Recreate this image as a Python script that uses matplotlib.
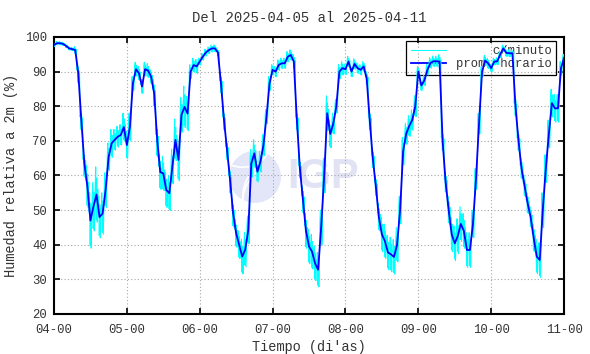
import numpy as np
import matplotlib
matplotlib.use('Agg')
import matplotlib.pyplot as plt
from matplotlib.patches import Ellipse, Arc

# hourly mean relative humidity (%), one list per day
day04 = [97.7, 98.2, 98.2, 98.0, 97.4, 96.7, 96.5, 96.2, 89.5, 76.0, 63.5, 56.8,
         47.0, 51.0, 54.5, 48.0, 49.0, 55.8, 65.4, 69.3, 70.3, 71.2, 71.7, 74.0]
day05 = [68.8, 74.0, 86.6, 90.7, 89.5, 85.7, 90.7, 90.3, 88.5, 83.7, 70.3, 61.0,
         60.6, 55.8, 54.9, 62.6, 70.3, 64.5, 77.5, 79.8, 77.9, 90.0, 91.9, 91.5]
day06 = [92.9, 94.3, 95.5, 96.2, 96.7, 96.7, 95.5, 86.6, 76.0, 67.4, 58.7, 49.1,
         43.3, 40.0, 36.6, 38.6, 44.3, 63.5, 66.4, 61.1, 64.0, 68.8, 77.0, 86.6]
day07 = [90.5, 90.0, 91.9, 92.4, 92.4, 94.3, 94.8, 92.9, 76.0, 62.0, 53.0, 44.0,
         39.5, 38.0, 34.6, 32.8, 45.0, 60.0, 78.0, 72.0, 75.0, 80.0, 90.0, 91.0]
day08 = [90.7, 92.9, 90.0, 92.2, 91.0, 90.5, 91.5, 88.0, 76.0, 65.0, 57.0, 48.0,
         43.0, 41.0, 37.8, 37.2, 36.5, 40.0, 50.0, 67.0, 72.0, 74.3, 76.0, 80.0]
day09 = [90.0, 86.0, 87.5, 90.5, 92.5, 93.0, 93.0, 92.9, 70.0, 58.0, 50.0, 43.0,
         40.4, 42.5, 46.0, 44.0, 38.5, 38.5, 46.0, 59.0, 75.0, 90.0, 93.2, 92.4]
day10 = [91.0, 92.9, 93.0, 95.0, 96.7, 95.4, 95.3, 95.3, 80.0, 70.0, 62.0, 57.0,
         52.0, 48.0, 42.0, 36.6, 35.6, 50.0, 62.0, 72.0, 80.9, 79.4, 79.4, 91.0]
day11 = [94.0]

# half-range of the per-minute scatter around each hourly mean (read by eye)
spread04 = [0.5, 0.5, 0.5, 0.5, 0.5, 0.5, 0.5, 1, 3, 3, 4, 6, 8, 7, 8, 6, 6, 5, 4, 4, 3, 3, 3, 4]
spread05 = [4, 4, 2, 2, 2, 2, 2, 2, 2, 4, 5, 5, 5, 5, 5, 5, 6, 6, 5, 6, 5, 2, 2, 2]
spread06 = [1, 1, 1, 1, 1, 1, 1, 3, 3, 3, 4, 4, 4, 4, 5, 5, 4, 4, 4, 3, 3, 3, 2, 2]
spread07 = [1.5, 1.5, 1.5, 1.5, 1.5, 1.5, 1.5, 2, 3, 3, 4, 5, 5, 5, 5, 5, 5, 5, 5, 4, 3, 2, 2, 2]
spread08 = [1.5, 1.5, 1.5, 1.5, 1.5, 1.5, 1.5, 2, 3, 3, 3, 4, 5, 5, 5, 5, 5, 5, 4, 4, 3, 3, 3, 3]
spread09 = [1.5, 1.5, 1.5, 1.5, 1.5, 1.5, 1.5, 2, 3, 3, 4, 5, 5, 5, 5, 5, 5, 5, 4, 3, 3, 1.5, 1.5, 1.5]
spread10 = [1, 1, 1, 1, 1, 1, 1, 1, 3, 3, 3, 3, 3, 3, 4, 5, 5, 5, 4, 4, 4, 4, 4, 2]
spread11 = [1]

xtick_labels = ['04-00', '05-00', '06-00', '07-00', '08-00', '09-00', '10-00', '11-00']

hourly = np.array(day04 + day05 + day06 + day07 + day08 + day09 + day10 + day11)
spread = np.array(spread04 + spread05 + spread06 + spread07 + spread08 + spread09 + spread10 + spread11, dtype=float)
t = 4 + np.arange(len(hourly)) / 24.0

# per-minute trace drawn as a jagged line inside the hourly envelope
wiggle = [0.3, 1.0, -0.9, 0.6, -1.0, 0.2]
cx, cy = [], []
for ti, vi, si in zip(t, hourly, spread):
    for k, w in enumerate(wiggle):
        cx.append(ti + (k - 2.5) / 6 / 24)
        cy.append(vi + si * w)
cx = np.array(cx)
cy = np.clip(np.array(cy), 0, 99.5)
keep = (cx >= 4) & (cx <= 11)

txt = '#333333'
mono = 'Liberation Mono'

fig = plt.figure(figsize=(5.9, 3.54), dpi=100)
ax = fig.add_axes([0.0915, 0.113, 0.8645, 0.7825])

# watermark logo
ax.add_patch(Ellipse((0.394, 0.495), 0.102, 0.188, transform=ax.transAxes,
                     facecolor='#e3e6f8', edgecolor='none', zorder=0))
for (ox, oy, w, h, a1, a2) in [(0.43, 0.42, 0.12, 0.26, 100, 200),
                               (0.45, 0.40, 0.16, 0.30, 110, 190),
                               (0.37, 0.60, 0.10, 0.14, 250, 340)]:
    ax.add_patch(Arc((ox, oy), w, h, theta1=a1, theta2=a2, transform=ax.transAxes,
                     color='white', lw=1.2, zorder=0.5))
ax.text(0.458, 0.495, 'IGP', transform=ax.transAxes, fontsize=30, fontweight='bold',
        family='Liberation Sans', color='#e2e2f5', ha='left', va='center', zorder=0.5)

ax.plot(cx[keep], cy[keep], color='#00ffff', lw=0.75, label='     c/minuto', zorder=3)
ax.plot(t, hourly, color='#0000ff', lw=1.3, label='prom. horario', zorder=4)

ax.set_xlim(4, 11)
ax.set_ylim(20, 100)
ax.set_xticks(np.arange(4, 12))
ax.set_xticklabels(xtick_labels)
ax.set_yticks(np.arange(20, 101, 10))

ax.grid(True, color='#a8a8a8', linestyle=(0, (1, 2)), lw=0.8)
ax.set_axisbelow(True)
ax.tick_params(direction='in', length=4, width=1.2, top=True, right=True,
               labelsize=8.8, colors='black', labelcolor=txt)
ax.tick_params(axis='x', pad=7)
ax.tick_params(axis='y', pad=5)
for lbl in ax.get_xticklabels() + ax.get_yticklabels():
    lbl.set_family(mono)
for s in ax.spines.values():
    s.set_linewidth(1.5)
    s.set_color('black')

ax.set_title('Del 2025-04-05 al 2025-04-11', family=mono, fontsize=10, color=txt, pad=11)
ax.set_xlabel("Tiempo (di'as)", family=mono, fontsize=9.8, color=txt, labelpad=3)
ax.set_ylabel('Humedad relativa a 2m (%)', family=mono, fontsize=9.8, color=txt, labelpad=5)

leg = ax.legend(loc='upper right', bbox_to_anchor=(0.984, 0.986), borderaxespad=0,
                prop={'family': mono, 'size': 8.8}, frameon=True, fancybox=False,
                handlelength=2.9, handletextpad=0.8, borderpad=0.35, labelspacing=0.1,
                framealpha=1)
leg.get_frame().set_facecolor('none')
leg.get_frame().set_edgecolor('black')
leg.get_frame().set_linewidth(0.9)
for txtobj in leg.get_texts():
    txtobj.set_color(txt)
leg.set_zorder(2)

fig.savefig('out.png', dpi=100)
